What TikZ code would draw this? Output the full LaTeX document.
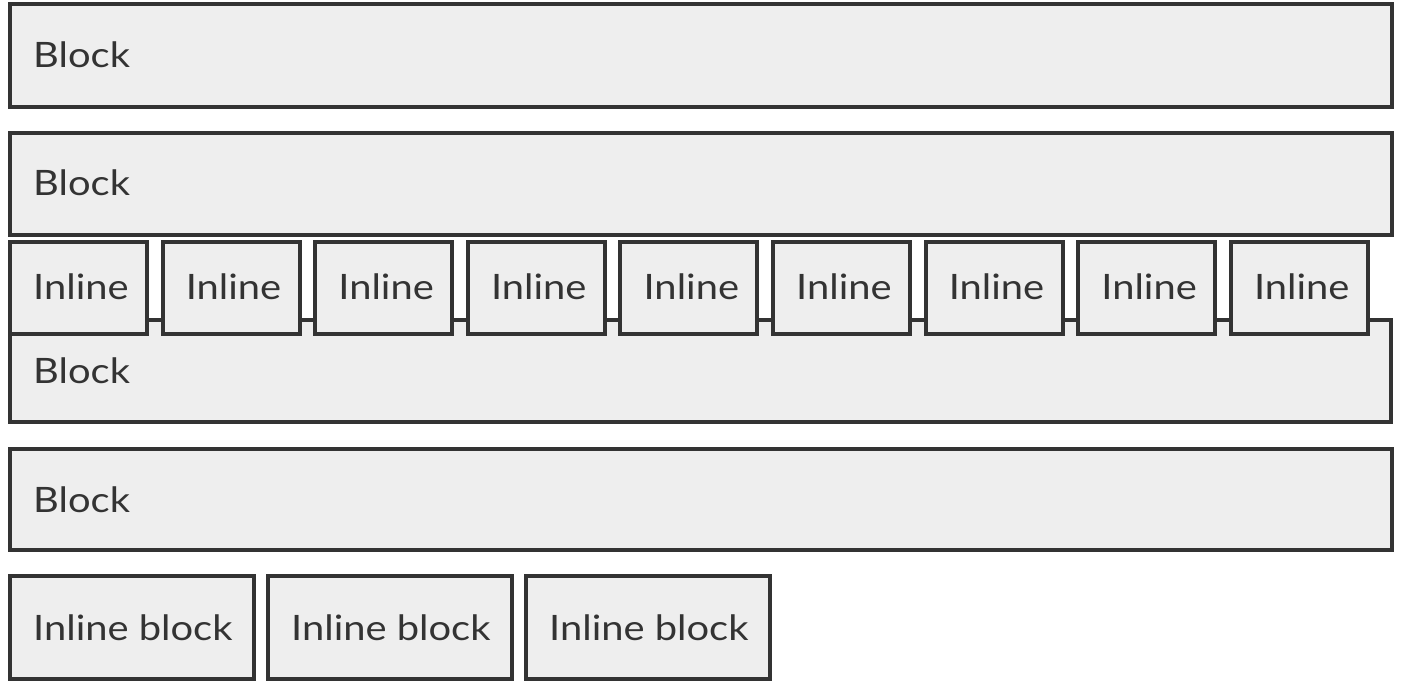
\documentclass[tikz,border=0pt]{standalone}
\usepackage{fontspec}
\setmainfont{Lato}[FakeStretch=1.14]
\definecolor{boxfill}{HTML}{EEEEEE}
\definecolor{boxline}{HTML}{333333}
\begin{document}
\begin{tikzpicture}[x=1pt,y=-1pt,
  box/.style={draw=boxline, fill=boxfill, line width=4pt, rectangle, inner sep=0pt, outer sep=0pt, anchor=north west},
  lbl/.style={text=boxline, font=\fontsize{35}{42}\selectfont, anchor=base west, inner sep=0pt}]
\useasboundingbox (0,0) rectangle (1406,684);
% Block 1
\node[box, minimum width=1382pt, minimum height=103pt] (b1) at (10,4) {};
\node[lbl] (t1) at (33,68) {Block};
% Block 2
\node[box, minimum width=1382pt, minimum height=102pt] (b2) at (10,133) {};
\node[lbl] (t2) at (33,196) {Block};
% Block 3 (with inlines)
\node[box, minimum width=1381pt, minimum height=102pt] (b3) at (10,320) {};
\node[lbl] (t3) at (33,384) {Block};
\foreach \i in {0,...,8} {
  \node[box, minimum width=137pt, minimum height=92pt] (in\i) at ({10+152.6*\i},242) {};
  \node[lbl] (ti\i) at ({33+152.6*\i},300) {Inline};
}
% Block 4
\node[box, minimum width=1382pt, minimum height=101pt] (b4) at (10,449) {};
\node[lbl] (t4) at (33,512) {Block};
% Inline blocks
\foreach \i in {0,1,2} {
  \node[box, minimum width=244pt, minimum height=103pt] (ib\i) at ({10+258*\i},576) {};
  \node[lbl] (tib\i) at ({33+258*\i},640) {Inline block};
}
\end{tikzpicture}
\end{document}
